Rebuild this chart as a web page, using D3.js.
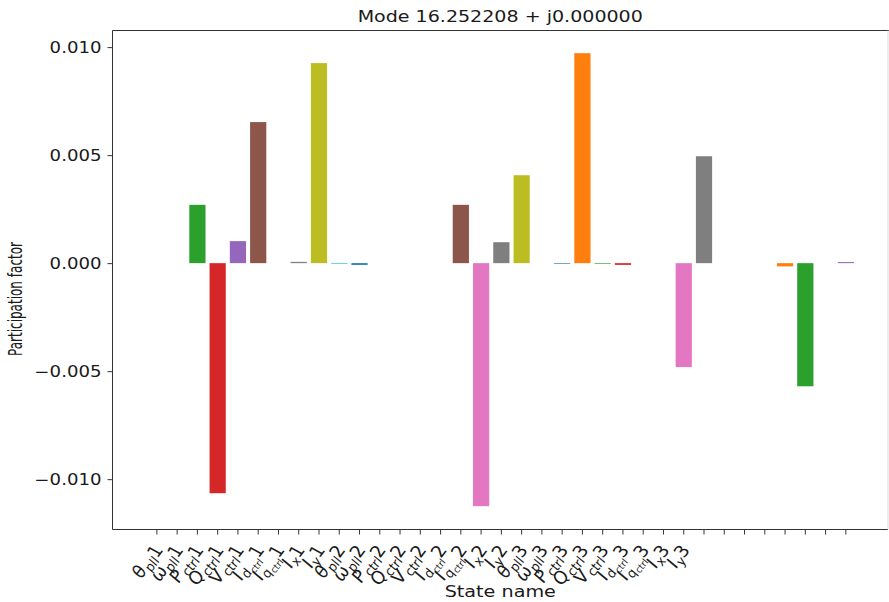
<!DOCTYPE html>
<html>
<head>
<meta charset="utf-8">
<script src="https://cdn.jsdelivr.net/npm/d3@7"></script>
<style>
  body { margin: 0; background: #ffffff; }
  svg { display: block; }
  text { font-family: "DejaVu Sans", sans-serif; fill: #1a1a1a; }
</style>
</head>
<body>
<svg id="chart" width="889" height="602"></svg>
<script>
// Tick labels for the states: [symbol, subscript, sub-subscript, converter index]
const stateLabels = [
  ["θ", "pll", "", "1"], ["ω", "pll", "", "1"], ["P", "ctrl", "", "1"], ["Q", "ctrl", "", "1"],
  ["V", "ctrl", "", "1"], ["I", "d", "ctrl", "1"], ["I", "q", "ctrl", "1"], ["I", "x", "", "1"],
  ["I", "y", "", "1"],
  ["θ", "pll", "", "2"], ["ω", "pll", "", "2"], ["P", "ctrl", "", "2"], ["Q", "ctrl", "", "2"],
  ["V", "ctrl", "", "2"], ["I", "d", "ctrl", "2"], ["I", "q", "ctrl", "2"], ["I", "x", "", "2"],
  ["I", "y", "", "2"],
  ["θ", "pll", "", "3"], ["ω", "pll", "", "3"], ["P", "ctrl", "", "3"], ["Q", "ctrl", "", "3"],
  ["V", "ctrl", "", "3"], ["I", "d", "ctrl", "3"], ["I", "q", "ctrl", "3"], ["I", "x", "", "3"],
  ["I", "y", "", "3"]
];

// Participation factor of every state (35 states, the last 8 carry no tick label)
const participation = [
  0, 0, 0.0027, -0.01065, 0.00102, 0.00653, 0, 0.00006, 0.00926, -0.00003,
  -0.00008, 0, 0, 0, 0, 0.0027, -0.01125, 0.00097, 0.00407, 0,
  -0.00003, 0.00972, -0.00003, -0.00008, 0, 0, -0.00481, 0.00495, 0, 0,
  0, -0.00015, -0.0057, 0, 0.00005
];

const yTicks = [-0.010, -0.005, 0.000, 0.005, 0.010];
const titleText = "Mode 16.252208 + j0.000000";
const xTitle = "State name";
const yTitle = "Participation factor";

const SX = 1.17;          // horizontal text stretch
const palette = d3.schemeCategory10;

const svg = d3.select("#chart");
const plot = { left: 112.5, right: 888, top: 30.5, bottom: 529.5 };

const x = d3.scaleLinear().domain([-2.19, 36.08]).range([plot.left, plot.right]);
const y = d3.scaleLinear().domain([-0.01233, 0.01077]).range([plot.bottom, plot.top]);

// bars
svg.append("g").selectAll("rect")
  .data(participation)
  .join("rect")
  .attr("x", (d, i) => x(i - 0.4))
  .attr("width", (d, i) => x(i + 0.4) - x(i - 0.4))
  .attr("y", d => y(Math.max(d, 0)))
  .attr("height", d => Math.abs(y(d) - y(0)))
  .attr("fill", (d, i) => palette[i % 10]);

// frame
const frame = svg.append("g").attr("fill", "none");
frame.append("line").attr("x1", plot.left).attr("x2", plot.left)
  .attr("y1", plot.top).attr("y2", plot.bottom).attr("stroke", "#333");
frame.append("line").attr("x1", plot.left).attr("x2", plot.right)
  .attr("y1", plot.bottom).attr("y2", plot.bottom).attr("stroke", "#333");
frame.append("line").attr("x1", plot.left).attr("x2", plot.right + 1)
  .attr("y1", plot.top).attr("y2", plot.top).attr("stroke", "#333");
frame.append("line").attr("x1", plot.right).attr("x2", plot.right)
  .attr("y1", plot.top).attr("y2", plot.bottom).attr("stroke", "#ddd");

// y axis
const yAxis = svg.append("g")
  .attr("transform", `translate(${plot.left},0)`)
  .call(d3.axisLeft(y).tickValues(yTicks).tickFormat(d3.format(".3f")).tickSize(5).tickPadding(0));
yAxis.select(".domain").remove();
yAxis.selectAll(".tick line").attr("stroke", "#333");
yAxis.selectAll(".tick text")
  .attr("x", null).attr("dy", "0.36em")
  .attr("font-size", 15.5)
  .attr("font-family", "DejaVu Sans")
  .attr("fill", "#1a1a1a")
  .attr("transform", `translate(-11,0) scale(${SX},1)`);

// x ticks
svg.append("g").selectAll("line")
  .data(participation)
  .join("line")
  .attr("x1", (d, i) => x(i)).attr("x2", (d, i) => x(i))
  .attr("y1", plot.bottom).attr("y2", plot.bottom + 5)
  .attr("stroke", "#333");

// x tick labels
const base = 16.5;
const labels = svg.append("g").selectAll("text")
  .data(stateLabels)
  .join("text")
  .attr("text-anchor", "end")
  .attr("font-size", base)
  .attr("transform", (d, i) => `translate(${x(i) + 7},${550}) scale(${SX},1) rotate(-57)`);

labels.each(function (d) {
  const t = d3.select(this);
  const [sym, sub, subsub, idx] = d;
  t.append("tspan").attr("font-style", "italic").text(sym);
  const subSize = base * 0.72;
  const subShift = base * 0.2;
  t.append("tspan").attr("font-style", "italic").attr("font-size", subSize)
    .attr("dy", subShift).text(sub);
  let shift = subShift;
  if (subsub) {
    const ss = base * 0.52;
    const ssShift = base * 0.14;
    t.append("tspan").attr("font-style", "italic").attr("font-size", ss)
      .attr("dy", ssShift).text(subsub);
    shift += ssShift;
  }
  t.append("tspan").attr("dy", -shift).text(idx);
});

// title and axis titles
svg.append("text")
  .attr("text-anchor", "middle")
  .attr("font-size", 16.3)
  .attr("transform", `translate(${(plot.left + plot.right) / 2},22) scale(${SX},1)`)
  .text(titleText);

svg.append("text")
  .attr("text-anchor", "middle")
  .attr("font-size", 16.4)
  .attr("transform", `translate(${(plot.left + plot.right) / 2},597) scale(${SX},1)`)
  .text(xTitle);

svg.append("text")
  .attr("text-anchor", "middle")
  .attr("font-size", 16)
  .attr("textLength", 114)
  .attr("lengthAdjust", "spacingAndGlyphs")
  .attr("transform", `translate(22,299) scale(${SX},1) rotate(-90)`)
  .text(yTitle);
</script>
</body>
</html>
